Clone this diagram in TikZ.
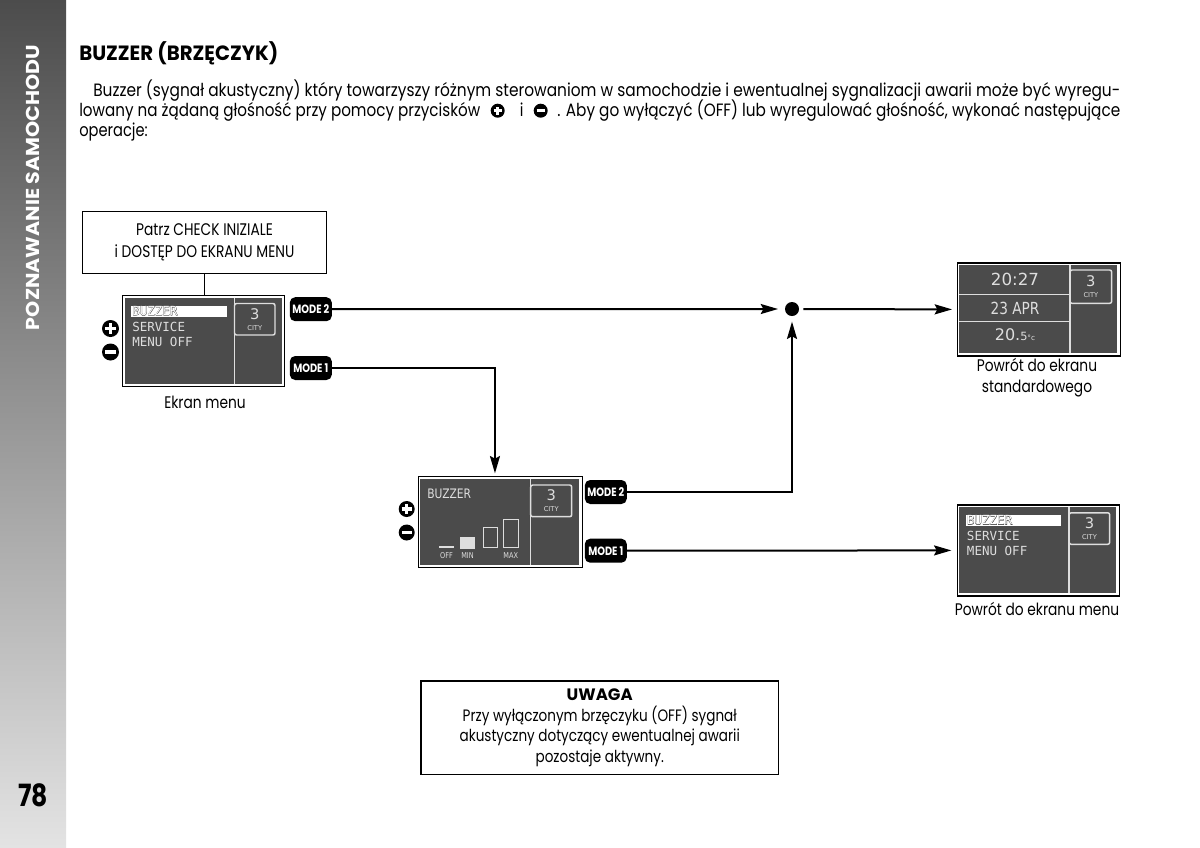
\documentclass[tikz,border=0pt]{standalone}
\usepackage{fontspec}
\usepackage{graphicx}
\usetikzlibrary{arrows.meta,calc}
\setmainfont{Poppins}[FakeStretch=0.82]
\newfontfamily\wideb{Poppins}
\newfontfamily\lcdm{DejaVu Sans Mono}
\newfontfamily\lcdmb{DejaVu Sans Mono}[FakeBold=3]
\newfontfamily\lcdn{DejaVu Sans}
\newfontfamily\lcds{DejaVu Sans}[FakeStretch=0.82]
\definecolor{lcdbg}{HTML}{4B4B4B}
\definecolor{lcdfg}{HTML}{DEDEDE}
\definecolor{sideA}{HTML}{4C4C4C}
\definecolor{sideB}{HTML}{E3E3E3}
\newcommand\bodyfont{\fontsize{13.4}{20}\selectfont}
\newcommand\labelfont{\fontsize{12.6}{16.2}\selectfont}
\newcommand\minusicon[3]{%
  \node[pm, minimum size=#3] (#1) at #2 {};
  \draw[white, line width=0.2*#3] ([xshift=-0.3*#3]#1.center) -- ([xshift=0.3*#3]#1.center);}
\newcommand\plusicon[3]{%
  \minusicon{#1}{#2}{#3}
  \draw[white, line width=0.2*#3] ([yshift=-0.3*#3]#1.center) -- ([yshift=0.3*#3]#1.center);}
\newcommand\menuscreen[2]{%
  \begin{scope}[shift={#2}]
    \node[screen, minimum width=121.5pt, minimum height=68.25pt] (#1) at (0,0) {};
    \fill[lcdbg] (2.5,2.5) rectangle (159.5,88.5);
    \draw[lcdline] (112.5,2.5) -- (112.5,88.5);
    \draw[lcdline, rounded corners=1.5pt] (112.5,8.5) rectangle (153,40);
    \node[citynum] at (132.75,19) {3};
    \node[citytxt] at (132.75,33) {CITY};
    \fill[white] (9,11) rectangle (104.5,21.5);
    \node[lcdtxt, font=\lcdmb\fontsize{9.4}{9.4}\selectfont, text=black!70] at (10,20.3) {BUZZER};
    \node[lcdtxt, text=white] at (10,20.3) {BUZZER};
    \node[lcdtxt] at (10,36) {SERVICE};
    \node[lcdtxt] at (10,51) {MENU OFF};
  \end{scope}}
\begin{document}
\begin{tikzpicture}[x=0.75pt,y=-0.75pt,
  lcdline/.style={draw=lcdfg, line width=1.1pt},
  screen/.style={draw=black, line width=0.9pt, fill=white, inner sep=0pt, anchor=north west},
  lcdtxt/.style={text=lcdfg, inner sep=0pt, anchor=base west, font=\lcdm\fontsize{9.4}{9.4}\selectfont},
  citynum/.style={text=lcdfg, inner sep=0pt, font=\lcdn\fontsize{11}{11}\selectfont},
  citytxt/.style={text=lcdfg, inner sep=0pt, font=\lcdn\fontsize{5}{5}\selectfont},
  smalllcd/.style={text=lcdfg, inner sep=0pt, font=\lcds\fontsize{6}{6}\selectfont},
  modetag/.style={fill=black, text=white, rounded corners=4pt, minimum width=31.5pt, minimum height=18pt, inner sep=0pt, font=\bfseries\fontsize{9}{9}\selectfont},
  pm/.style={circle, fill=black, inner sep=0pt},
  arr/.style={line width=1.5pt, -{Stealth[length=13pt,width=7.5pt,inset=2pt]}},
  lbl/.style={inner sep=0pt, font=\labelfont, align=center},
  bodytxt/.style={inner sep=0pt, anchor=base west, font=\bodyfont},
  box/.style={draw=black, line width=1.1pt, inner sep=0pt, align=center, font=\labelfont}
]
\useasboundingbox (0,0) rectangle (1200,847);
\fill[white] (0,0) rectangle (1200,847);
% sidebar
\shade[top color=sideA, bottom color=sideB] (0,0) rectangle (66,847);
\node[rotate=90, text=white, inner sep=0pt, font=\wideb\bfseries\fontsize{14}{14}\selectfont] (side) at (33,187.5) {\resizebox{213.75pt}{\height}{POZNAWANIE SAMOCHODU}};
\node[inner sep=0pt, font=\bfseries\fontsize{23}{23}\selectfont] (pg) at (33,795) {78};
% heading and paragraph
\node[inner sep=0pt, anchor=base west, font=\wideb\bfseries\fontsize{15.5}{16}\selectfont] (head) at (79,60.7) {\resizebox{149.25pt}{\height}{BUZZER (BRZĘCZYK)}};
\node[bodytxt] (l1) at (93,96) {\resizebox{770.25pt}{\height}{Buzzer (sygnał akustyczny) który towarzyszy różnym sterowaniom w samochodzie i ewentualnej sygnalizacji awarii może być wyregu-}};
\node[bodytxt] (l2a) at (79,116) {\resizebox{300.75pt}{\height}{lowany na żądaną głośność przy pomocy przycisków}};
\plusicon{ip}{(497.7,110.7)}{10.5pt}
\node[bodytxt, anchor=base] (l2i) at (521.7,116) {i};
\minusicon{im}{(540.7,110.7)}{10.5pt}
\node[bodytxt] (l2b) at (557,116) {\resizebox{422.25pt}{\height}{. Aby go wyłączyć (OFF) lub wyregulować głośność, wykonać następujące}};
\node[bodytxt] (l3) at (79,136.5) {operacje:};
% top box
\node[box, minimum width=183.3pt, minimum height=46.2pt] (patrz) at (204.5,242.5) {Patrz CHECK INIZIALE\\i DOSTĘP DO EKRANU MENU};
% menu screen 1
\menuscreen{menu1}{(122,295)}
\draw[line width=1.1pt] (patrz.south) -- (patrz.south |- menu1.north);
\plusicon{p1}{(110.5,328.5)}{12.75pt}
\minusicon{n1}{(110.5,352)}{12.75pt}
\node[modetag] (m2a) at (310.8,309.2) {MODE 2};
\node[modetag] (m1a) at (310.8,368) {MODE 1};
\node[lbl] (lab1) at (205,402) {Ekran menu};
% buzzer screen
\begin{scope}[shift={(417.7,476)}]
  \node[screen, minimum width=123pt, minimum height=68.25pt] (bz) at (0,0) {};
  \fill[lcdbg] (2.5,2.5) rectangle (161.5,88.5);
  \draw[lcdline] (113,2.5) -- (113,88.5);
  \draw[lcdline, rounded corners=1.5pt] (113,9) rectangle (154,40.7);
  \node[citynum] at (133.5,19.5) {3};
  \node[citytxt] at (133.5,33.5) {CITY};
  \node[anchor=base west, text=lcdfg, inner sep=0pt, font=\lcds\fontsize{9.8}{9.8}\selectfont] at (9.3,22.5) {BUZZER};
  \fill[lcdfg] (21.6,70) rectangle (36.3,72.2);
  \fill[lcdfg] (42.3,61) rectangle (57.3,73);
  \draw[lcdline, line width=0.9pt] (65.5,51.5) rectangle (79.5,71.5);
  \draw[lcdline, line width=0.9pt] (85.5,43.5) rectangle (100.5,71.5);
  \node[smalllcd] at (28.9,79.5) {OFF};
  \node[smalllcd] at (49.8,79.5) {MIN};
  \node[smalllcd] at (93,79.5) {MAX};
\end{scope}
\plusicon{p2}{(406.7,509)}{12pt}
\minusicon{n2}{(406.7,532.5)}{12pt}
\node[modetag] (m2b) at (605.8,492) {MODE 2};
\node[modetag] (m1b) at (605.8,550.7) {MODE 1};
% standard screen
\begin{scope}[shift={(956.7,262.3)}]
  \node[screen, minimum width=122.25pt, minimum height=69.75pt] (std) at (0,0) {};
  \fill[lcdbg] (2.5,2.5) rectangle (160.5,90.5);
  \draw[lcdline] (113.3,2.5) -- (113.3,90.5);
  \draw[lcdline] (2.5,32) -- (113.3,32);
  \draw[lcdline] (2.5,59.4) -- (113.3,59.4);
  \draw[lcdline, rounded corners=1.5pt] (113.3,7.7) rectangle (155,41);
  \node[citynum] at (134.2,18.5) {3};
  \node[citytxt] at (134.2,32.5) {CITY};
  \node[text=lcdfg, inner sep=0pt, font=\lcdn\fontsize{12.5}{12.5}\selectfont] at (58.3,17) {20:27};
  \node[text=lcdfg, inner sep=0pt, font=\lcds\fontsize{12.5}{12.5}\selectfont] at (58.3,46) {23 APR};
  \node[text=lcdfg, inner sep=0pt, font=\lcdn\fontsize{12}{12}\selectfont] at (58.3,72.7) {20.{\fontsize{8.5}{8.5}\selectfont 5}{\fontsize{5.5}{5.5}\selectfont °c}};
\end{scope}
\node[lbl, font=\fontsize{12.6}{15.75}\selectfont] (lab2) at (1037,377.5) {Powrót do ekranu\\standardowego};
% menu screen 2
\menuscreen{menu2}{(956.7,504.3)}
\node[lbl] (lab3) at (1037,609) {Powrót do ekranu menu};
% junction
\node[circle, fill=black, minimum size=10.5pt, inner sep=0pt] (dot) at (792,309) {};
% connectors
\draw[arr, shorten >=5pt] (m2a.east) -- (dot.west);
\draw[arr, shorten <=3pt, shorten >=3.5pt] (dot.east) -- (std.west);
\draw[arr, shorten >=2pt] (m1a.east) -| ([xshift=-4pt]bz.north);
\draw[arr, shorten >=4pt] (m2b.east) -| (dot.south);
\draw[arr, shorten >=4pt] (m1b.east) -- (menu2.west);
% note
\node[box, minimum width=268.1pt, minimum height=70pt, font=\fontsize{12.4}{15.4}\selectfont] (uwaga) at (599.75,727.6) {{\wideb\bfseries UWAGA}\\Przy wyłączonym brzęczyku (OFF) sygnał\\akustyczny dotyczący ewentualnej awarii\\pozostaje aktywny.};
\end{tikzpicture}
\end{document}
